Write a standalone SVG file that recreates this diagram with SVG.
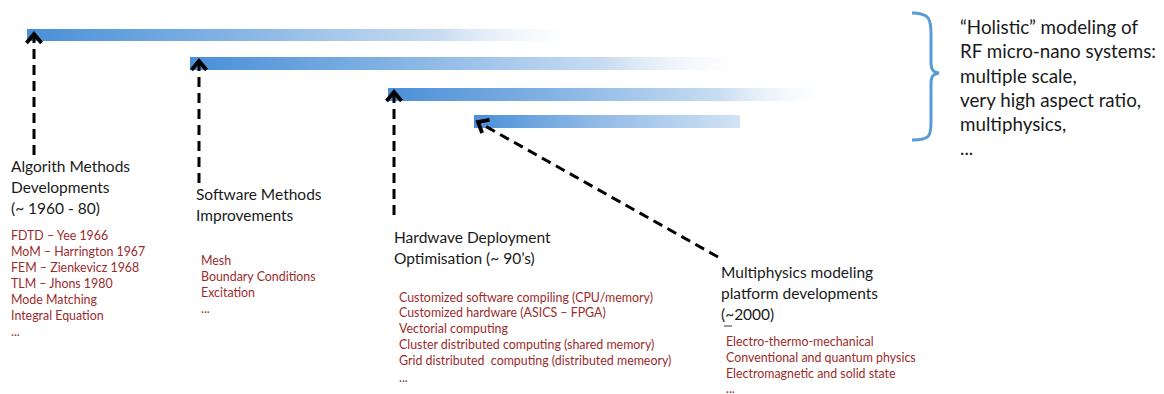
<svg xmlns="http://www.w3.org/2000/svg" width="1164" height="394" viewBox="0 0 1164 394">
  <defs>
    <linearGradient id="barFade" x1="0" y1="0" x2="1" y2="0">
      <stop offset="0" stop-color="#4a8fd8"/>
      <stop offset="0.35" stop-color="#80b1e3"/>
      <stop offset="0.75" stop-color="#c9ddf2"/>
      <stop offset="1" stop-color="#ffffff" stop-opacity="0.2"/>
    </linearGradient>
    <linearGradient id="barFadeShort" x1="0" y1="0" x2="1" y2="0">
      <stop offset="0" stop-color="#4a8fd8"/>
      <stop offset="0.45" stop-color="#8fbae6"/>
      <stop offset="1" stop-color="#d2e3f4"/>
    </linearGradient>
    <!-- open chevron head, drawn pointing along +x so orient="auto" follows the line -->
    <marker id="chevron" viewBox="0 0 24 24" refX="16" refY="12" markerWidth="24" markerHeight="24" markerUnits="userSpaceOnUse" orient="auto">
      <path d="M7,4.5 L16,12 L7,19.5" fill="none" stroke="#000" stroke-width="3.8" stroke-linejoin="miter"/>
    </marker>
  </defs>
  <style>
    .head { font-family: Lato, "Open Sans", "Liberation Sans", sans-serif; font-size: 15.5px; fill: #1a1a1a; }
    .item { font-family: Lato, "Open Sans", "Liberation Sans", sans-serif; font-size: 12.4px; fill: #9b2b2b; }
    .side { font-family: Lato, "Open Sans", "Liberation Sans", sans-serif; font-size: 18.8px; fill: #1a1a1a; }
    .link { fill: none; stroke: #000; stroke-width: 3; stroke-dasharray: 10 6; }
  </style>

  <rect width="1164" height="394" fill="#ffffff"/>

  <!-- timeline bars -->
  <g id="bars">
    <rect x="27" y="29" width="553" height="12" fill="url(#barFade)"/>
    <rect x="190" y="57" width="555" height="13" fill="url(#barFade)"/>
    <rect x="388" y="88" width="442" height="13" fill="url(#barFade)"/>
    <rect x="474" y="115" width="266" height="13" fill="url(#barFadeShort)"/>
  </g>

  <!-- brace and summary -->
  <g id="summary">
    <path d="M912,13 C930,13 931,20 931,34 L931,62 C931,70 933,72 939,73 C933,74 931,76 931,84 L931,122 C931,136 930,140 912,140" fill="none" stroke="#5b9bd5" stroke-width="3"/>
    <text class="side" x="960" y="34">“Holistic” modeling of</text>
    <text class="side" x="960" y="58">RF micro-nano systems:</text>
    <text class="side" x="960" y="83">multiple scale,</text>
    <text class="side" x="960" y="107">very high aspect ratio,</text>
    <text class="side" x="960" y="131">multiphysics,</text>
    <text class="side" x="960" y="155">...</text>
  </g>

  <!-- connectors -->
  <g id="connectors">
    <path class="link" d="M34,155 L34,34" marker-end="url(#chevron)"/>
    <path class="link" d="M199,183 L199,61" marker-end="url(#chevron)"/>
    <path class="link" d="M394,215 L394,92" marker-end="url(#chevron)"/>
    <path class="link" d="M718,257 L478,122" marker-end="url(#chevron)"/>
  </g>

  <g id="algorithm-methods">
    <text class="head" x="11" y="172">Algorith Methods</text>
    <text class="head" x="11" y="193">Developments</text>
    <text class="head" x="11" y="214">(~ 1960 - 80)</text>
    <text class="item" x="11" y="240">FDTD – Yee 1966</text>
    <text class="item" x="11" y="256">MoM – Harrington 1967</text>
    <text class="item" x="11" y="272">FEM – Zienkevicz 1968</text>
    <text class="item" x="11" y="288">TLM – Jhons 1980</text>
    <text class="item" x="11" y="304">Mode Matching</text>
    <text class="item" x="11" y="320">Integral Equation</text>
    <text class="item" x="11" y="336">...</text>
  </g>

  <g id="software-methods">
    <text class="head" x="196" y="200">Software Methods</text>
    <text class="head" x="196" y="221">Improvements</text>
    <text class="item" x="201" y="265">Mesh</text>
    <text class="item" x="201" y="281">Boundary Conditions</text>
    <text class="item" x="201" y="297">Excitation</text>
    <text class="item" x="201" y="313">...</text>
  </g>

  <g id="hardware-deployment">
    <text class="head" x="394" y="243">Hardwave Deployment</text>
    <text class="head" x="394" y="264">Optimisation (~ 90’s)</text>
    <text class="item" x="399" y="302">Customized software compiling (CPU/memory)</text>
    <text class="item" x="399" y="317">Customized hardware (ASICS – FPGA)</text>
    <text class="item" x="399" y="333">Vectorial computing</text>
    <text class="item" x="399" y="349">Cluster distributed computing (shared memory)</text>
    <text class="item" x="399" y="365" xml:space="preserve">Grid distributed  computing (distributed memeory)</text>
    <text class="item" x="399" y="382">...</text>
  </g>

  <g id="multiphysics-platform">
    <text class="head" x="721" y="278">Multiphysics modeling</text>
    <text class="head" x="721" y="299">platform developments</text>
    <text class="head" x="721" y="320">(~2000)</text>
    <rect x="724" y="325" width="8" height="2" fill="#9a9a9a"/>
    <text class="item" x="726" y="346">Electro-thermo-mechanical</text>
    <text class="item" x="726" y="362">Conventional and quantum physics</text>
    <text class="item" x="726" y="378">Electromagnetic and solid state</text>
    <text class="item" x="726" y="393">...</text>
  </g>
</svg>
